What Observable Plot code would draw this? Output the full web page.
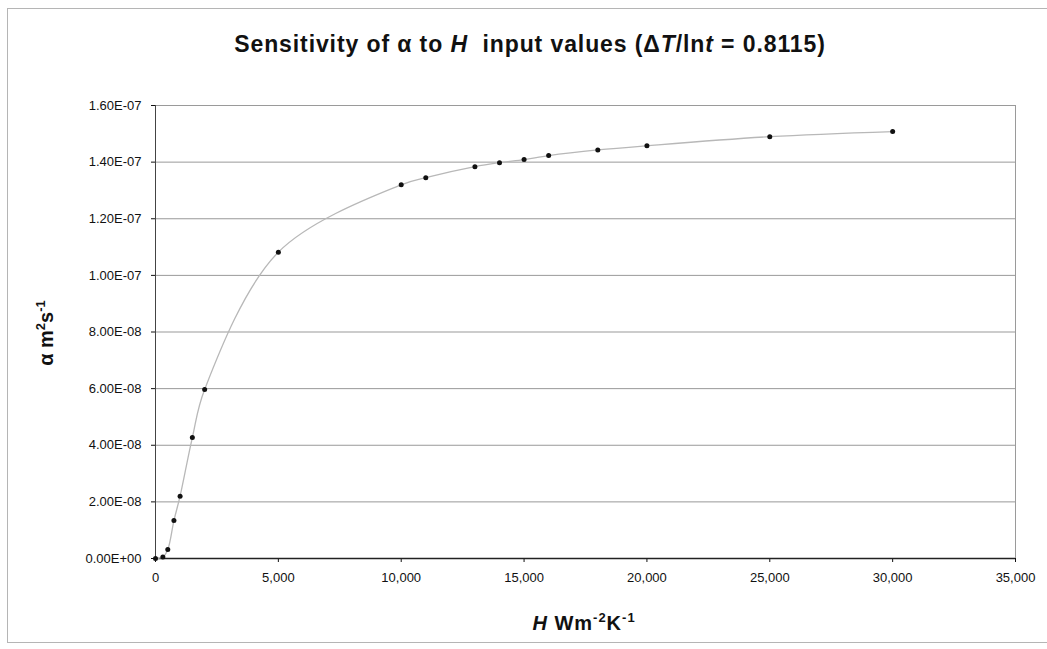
<!DOCTYPE html>
<html><head><meta charset="utf-8">
<script src="https://cdn.jsdelivr.net/npm/d3@7"></script>
<script src="https://cdn.jsdelivr.net/npm/@observablehq/plot@0.6"></script>
<style>
body{margin:0;background:#fff;font-family:"Liberation Sans",Arial,sans-serif}
#wrap{position:relative;width:1047px;height:649px;overflow:hidden;background:#fff}
#border{position:absolute;left:7px;top:8px;width:1045px;height:635px;border:1px solid #b5b5b5;box-sizing:border-box}
#title{position:absolute;top:31px;left:0;width:1060px;text-align:center;font-weight:bold;font-size:23px;letter-spacing:0.9px;color:#111;font-family:"Liberation Sans",Arial,sans-serif}
#chart{position:absolute;left:0;top:0}
</style></head>
<body>
<div id="wrap">
  <div id="border"></div>
  <div id="title">Sensitivity of α to <i>H</i>&nbsp; input values (Δ<i>T</i>/ln<i>t</i> = 0.8115)</div>
  <div id="chart"></div>
</div>
<script>
const H = [0, 300, 500, 750, 1000, 1500, 2000, 5000, 10000, 11000, 13000, 14000, 15000, 16000, 18000, 20000, 25000, 30000];
const alpha = [0, 0.05e-8, 0.32e-8, 1.34e-8, 2.2e-8, 4.27e-8, 5.97e-8, 10.82e-8, 13.2e-8, 13.45e-8, 13.84e-8, 13.98e-8, 14.09e-8, 14.23e-8, 14.43e-8, 14.58e-8, 14.9e-8, 15.08e-8];
const yTicks = [0, 2e-8, 4e-8, 6e-8, 8e-8, 1e-7, 1.2e-7, 1.4e-7, 1.6e-7];
const xTicks = [0, 5000, 10000, 15000, 20000, 25000, 30000, 35000];

const data = H.map((h, i) => ({H: h, a: alpha[i]}));
const fmtE = d => {
  if (d === 0) return "0.00E+00";
  const [m, e] = d.toExponential(2).split("e");
  const n = +e;
  return m + "E" + (n < 0 ? "-" : "+") + String(Math.abs(n)).padStart(2, "0");
};

const plot = Plot.plot({
  width: 1047, height: 649,
  marginLeft: 155, marginRight: 32, marginTop: 105, marginBottom: 91,
  style: {fontFamily: "Liberation Sans, Arial, sans-serif", fontSize: "13px", color: "#111", background: "transparent"},
  x: {domain: [0, 35000], label: null},
  y: {domain: [0, 1.6e-7], label: null},
  marks: [
    Plot.gridY(yTicks.slice(1), {stroke: "#999", strokeOpacity: 1, strokeWidth: 1}),
    Plot.frame({stroke: "#9a9a9a"}),
    Plot.axisY({ticks: yTicks, tickFormat: fmtE, tickSize: 4, tickPadding: 10, label: null}),
    Plot.axisX({ticks: xTicks, tickFormat: d3.format(","), tickSize: 4, tickPadding: 10, label: null}),
    Plot.ruleY([0], {stroke: "#222", strokeWidth: 1.5}),
    Plot.ruleX([0], {stroke: "#444"}),
    Plot.line(data, {x: "H", y: "a", curve: "catmull-rom", stroke: "#b8b8b8", strokeWidth: 1.3}),
    Plot.dot(data, {x: "H", y: "a", r: 2.5, fill: "#111", stroke: "none"})
  ]
});
document.getElementById("chart").appendChild(plot);

const svg = d3.select(plot);
const yl = svg.append("text")
  .attr("transform", "translate(53,333) rotate(-90)")
  .attr("text-anchor", "middle")
  .attr("font-weight", "bold").attr("font-size", 20).attr("fill", "#111")
  .attr("font-family", "Liberation Sans, Arial, sans-serif");
yl.append("tspan").text("α m");
yl.append("tspan").attr("dy", -8).attr("font-size", 13).text("2");
yl.append("tspan").attr("dy", 8).text("s");
yl.append("tspan").attr("dy", -8).attr("font-size", 13).text("-1");

const xl = svg.append("text")
  .attr("x", 584).attr("y", 630)
  .attr("text-anchor", "middle")
  .attr("font-weight", "bold").attr("font-size", 20).attr("fill", "#111")
  .attr("letter-spacing", 1)
  .attr("font-family", "Liberation Sans, Arial, sans-serif");
xl.append("tspan").attr("font-style", "italic").text("H");
xl.append("tspan").text(" Wm");
xl.append("tspan").attr("dy", -8).attr("font-size", 13).text("-2");
xl.append("tspan").attr("dy", 8).text("K");
xl.append("tspan").attr("dy", -8).attr("font-size", 13).text("-1");
</script>
</body></html>
